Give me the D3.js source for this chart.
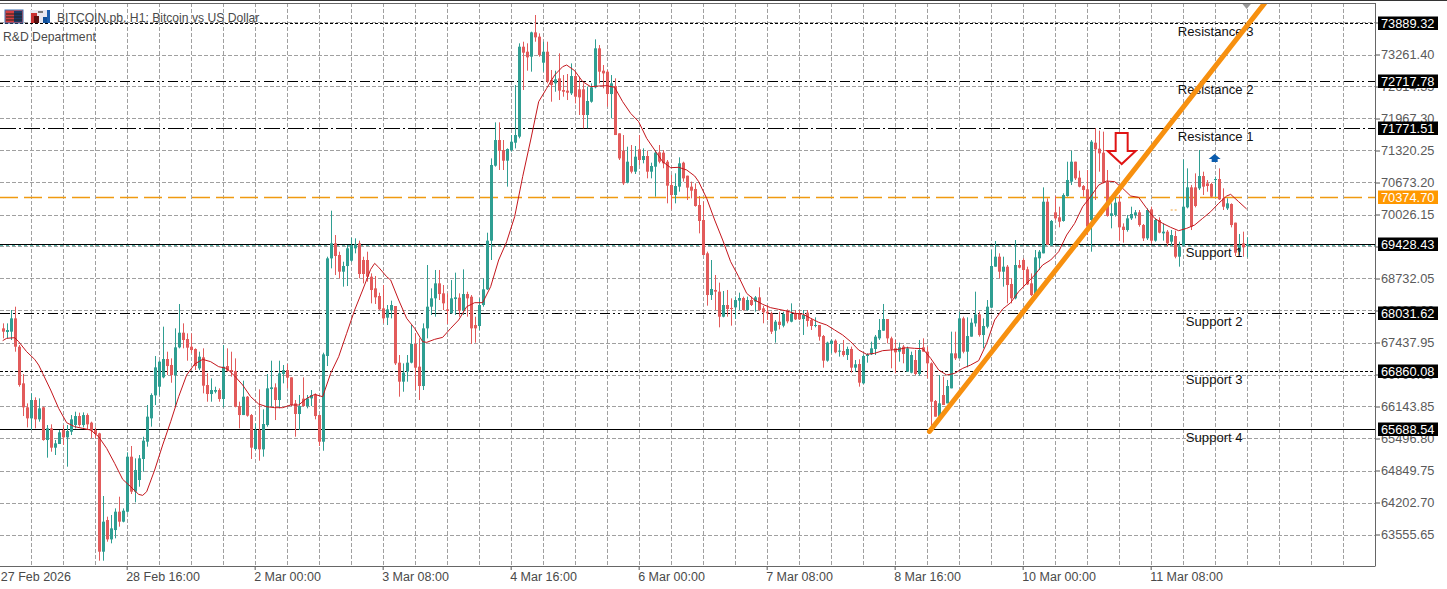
<!DOCTYPE html>
<html>
<head>
<meta charset="utf-8">
<script src="https://cdn.jsdelivr.net/npm/d3@7"></script>
<style>
html,body{margin:0;padding:0;background:#fff;overflow:hidden}
svg{display:block}
text{font-family:"Liberation Sans",Arial,sans-serif;font-size:12.5px}
</style>
</head>
<body>
<svg id="chart" width="1447" height="589"></svg>
<script>
const opens = [
67724,67650,67657,67926,67353,66612,66127,65904,66275,65884,
66127,65466,65702,65311,65385,65668,65520,65634,65769,65951,
65769,65971,65817,65668,65601,63208,63848,63457,63646,64017,
63815,64017,65129,64421,64657,65082,65432,65904,66369,66544,
66733,67104,66983,66780,67340,67636,67508,67353,67306,66915,
67138,66578,66396,66443,66477,66295,66962,66881,66861,66153,
65971,66342,65971,65284,65668,65277,65769,66497,66531,66275,
66800,66881,66733,66207,65992,66302,66153,66308,66389,65971,
65432,67165,69139,69443,69207,68870,68984,69092,69342,69443,
69106,69106,68769,68533,68378,68128,67940,68095,68176,67030,
66646,66848,67030,67407,66949,66558,67724,68162,68331,68634,
68432,68108,68027,68317,68344,68081,68418,68364,67791,67771,
68196,68513,69497,71013,71532,71330,71114,71330,71478,71600,
73419,73318,73217,73709,73622,73096,73318,72745,72678,72779,
72543,72530,72476,72826,72557,72557,72038,72307,72597,73386,
72934,72914,72462,72624,71667,71317,70669,71006,70892,71343,
71128,71209,70892,70993,71283,71276,71094,70623,70420,70589,
71074,70811,70589,70542,70218,69915,69241,68398,68500,68466,
67960,68196,68136,68149,68284,68338,68095,68297,68264,68351,
68129,68061,68028,67677,67859,67778,68082,67859,68028,68014,
67913,68041,67893,67772,67792,67569,67071,67408,67475,67253,
67266,67185,67307,66929,67003,66612,67165,67199,67307,67522,
67677,67913,67522,67320,67253,67354,66848,66828,67084,66801,
67340,67253,67017,66255,65938,66376,66208,66511,67219,67118,
67926,67252,67556,67825,68007,67589,67758,68142,68971,69173,
68870,68971,68621,68331,69005,69106,68917,68634,68412,69140,
69241,70285,69409,70070,69969,69895,70400,70690,71094,70771,
70602,70535,69915,71478,71357,71276,70690,69996,70016,70285,
69780,69713,69948,70016,70070,69814,69544,70130,69497,69915,
69645,69679,69477,69591,69173,69409,70171,70575,70575,70555,
70804,70656,70643,70723,70744,70353,70150,70238,69861,69274,69443,69389];
const highs = [
67825,67825,68095,68162,67387,66800,66207,66410,66329,66308,
66140,65769,65783,65466,65668,65769,65769,65971,66039,66019,
66025,66005,65837,65722,65614,64334,63916,63950,64084,64320,
64084,65217,65345,65095,65163,65533,66174,66410,67164,67070,
67758,67252,67117,67724,68216,67825,67623,67623,67320,67252,
67320,66814,66713,66544,66511,67387,67320,67252,67117,66241,
66666,66356,65992,65803,66490,66086,66800,67070,66612,67070,
66983,67003,66733,66275,66376,66733,66376,66477,66410,65971,
67232,69173,70103,69611,69274,69072,69409,69557,69544,69497,
69173,69274,68836,68782,68445,68600,68196,68284,68176,67185,
67016,67185,67791,67623,67522,67825,69005,68533,68904,68904,
68600,68432,68701,68850,68432,68917,68465,68398,67960,68331,
68735,69658,71161,71889,71889,71532,71363,71633,72644,73487,
73520,73487,73723,74060,73689,73520,73520,72948,72934,73285,
72846,72867,73082,72914,72813,72678,72611,72678,73568,73453,
73049,72948,72846,72779,71667,71633,71397,71431,71411,71633,
71364,71317,71074,71330,71431,71330,71128,70825,70859,71182,
71094,70811,70690,70656,70400,70286,69275,69106,68803,68648,
68479,68500,68331,68365,68446,68365,68365,68365,68378,68554,
68176,68196,68061,67893,68061,68061,68109,68230,68095,68095,
68095,68095,67927,67947,67792,67590,67455,67502,67502,67408,
67489,67354,67354,67084,67098,67185,67219,67455,67590,67913,
68217,67913,67556,67489,67435,67387,67354,67253,67286,67489,
67522,67354,67037,66275,66781,66747,66680,67657,67657,68061,
67960,67947,67926,68466,68061,67926,68297,69308,69490,69241,
69173,69005,68735,69510,69106,69140,68971,68836,69308,69308,
70575,70353,69915,70400,70184,70454,71094,71317,71094,70912,
70622,70926,71532,71768,71721,71701,70926,70252,70454,70420,
69847,70016,70184,70117,70117,69834,70151,70184,69948,69969,
69847,69713,69713,69699,69477,71141,70959,70622,70858,71330,
70892,70723,70669,70791,70959,70555,70353,70252,69861,69632,69679,69564];
const lows = [
67522,67522,67488,67252,66544,65951,65722,65668,65702,65837,
65453,65109,65230,65163,65385,65365,64927,65567,65702,65736,
65722,65682,65500,65500,63026,63026,63410,63377,63478,63714,
63801,63997,64374,64206,64522,64826,65331,65736,66174,66369,
66713,66780,66625,66140,67320,67320,67070,67218,66881,66881,
66410,66241,66241,66410,66241,66127,66848,66747,66127,65702,
65971,65938,65082,65264,65048,65129,65736,66140,65870,66106,
66612,66511,66153,65533,65668,66140,66106,66153,65884,65345,
65250,66962,68937,68802,68735,68567,68580,69072,69241,68735,
68634,68668,68230,68216,68095,67825,67791,67926,66983,66342,
66443,66646,67016,66477,66275,66477,67522,67994,67960,68297,
68095,67812,68027,67994,67960,67994,67960,67407,67434,67690,
68162,68499,69106,70993,70926,70926,70589,71296,71363,71566,
72543,72934,72914,73520,73217,72914,72678,72307,72509,72341,
72408,72341,72442,72274,72038,71768,71768,72287,72577,72678,
72577,72206,71970,71633,71128,70622,70656,70858,70845,71027,
71061,70757,70757,70387,71061,70960,70252,70131,70252,70488,
70690,70319,70353,70185,69645,69207,68183,68297,68095,67745,
67947,67960,67778,67913,68095,68082,68082,68176,68061,68082,
67826,67893,67610,67435,67704,67745,67826,67846,67893,67893,
67590,67758,67691,67745,67475,66929,67050,67219,67219,67152,
67152,67084,66828,66848,66545,66599,67030,67185,67185,67489,
67677,67421,66916,66815,67050,67017,66848,66815,66781,66767,
67253,66713,65669,65938,65904,66174,66208,66511,67084,67118,
67219,66936,67556,67758,67556,67320,67724,68129,68971,68735,
68567,68230,68230,68311,68937,68567,68600,68378,68398,68904,
69241,69409,69389,69915,69767,69881,70387,70622,70724,70575,
70387,69611,69274,70319,70892,70656,69982,69746,69982,69497,
69456,69679,69915,69948,69780,69490,69510,69443,69477,69645,
69497,69389,69409,69140,68971,69375,70150,69712,70171,70521,
70420,70487,70373,70386,70319,70117,70117,69766,69187,69207,69173,69160];
const closes = [
67657,67690,67926,67353,66578,66127,65904,66275,65884,66106,
65466,65702,65311,65399,65621,65520,65648,65884,65951,65769,
65971,65783,65655,65587,63208,63815,63457,63680,64017,63815,
64037,65129,64421,64859,65095,65453,65938,66376,66935,67050,
67104,66962,66780,67340,67636,67488,67333,67286,66962,67151,
66565,66396,66477,66477,66295,66949,66868,66848,66140,65971,
66342,65958,65311,65668,65277,65790,66511,66531,66275,66814,
66881,66726,66174,65992,66153,66153,66308,66376,65951,65432,
67198,69139,69443,69187,68870,68984,69342,69409,69423,68823,
68823,68769,68499,68351,68108,67926,68108,68196,67016,66646,
66828,67030,67407,66929,66558,67724,68162,68331,68634,68418,
68230,68075,68331,68351,68081,68418,68331,67724,67724,68196,
68513,69497,71027,71532,71317,71114,71350,71498,71633,73419,
73298,73204,73709,73608,73251,73318,72712,72644,72759,72530,
72509,72489,72826,72408,72395,72038,72321,72597,73386,72914,
72880,72462,72678,71633,71161,70656,71094,70892,71195,71128,
71209,70892,71007,71276,71094,71061,70609,70420,70602,71061,
70757,70569,70508,70198,69895,69207,68398,68520,68466,67960,
68196,68115,68115,68297,68338,68095,68297,68196,68351,68095,
68048,68028,67657,67859,67792,68014,67866,68014,67906,67906,
67994,67873,67772,67792,67556,67071,67435,67475,67239,67273,
67185,67307,66929,66997,66626,67165,67199,67320,67556,67691,
67913,67522,67300,67239,67340,67206,67320,67185,66801,67286,
67253,67017,66241,65938,66208,66174,66558,67219,67118,67926,
67252,67569,67839,68007,67589,67771,68162,68985,69173,68870,
68971,68600,68331,69005,68951,68904,68614,68398,69160,69274,
70285,69409,69895,69948,69881,70420,70724,71094,70757,70589,
70521,69780,71499,71344,71263,70670,69996,70050,70265,69767,
69713,69948,70036,70070,69814,69544,70117,69497,69915,69659,
69679,69443,69611,69173,69376,70184,70575,69780,70198,70804,
70589,70602,70386,70744,70332,70184,70252,69813,69254,69409,69362,69428];

const maBars = [0,1,3,4,6,8,9,10,12,14,16,18,20,22,24,26,28,30,32,34,35,36,38,40,42,44,46,48,50,52,54,56,58,60,62,64,66,68,70,72,74,76,78,80,
82,84,86,88,90,92,93,94,96,97,99,101,103,105,106,108,110,112,114,116,118,120,122,124,126,128,130,132,134,136,138,140,141,143,145,147,149,151,153,155,157,159,161,163,
165,167,169,171,173,174,176,178,180,182,184,186,188,190,192,194,196,198,200,202,204,206,208,210,212,214,216,218,220,222,224,226,228,230,232,
234,236,238,240,242,244,246,248,250,252,254,256,258,260,262,264,266,268,270,272,274,276,278,280,282,284,286,288,290,292,294,296,298,300,302,304,306,307,309,311];
const maValues = [67475,67522,67535,67454,67252,67097,66982,66814,66477,66106,65816,65736,65702,65668,65533,65297,64994,64671,64522,64367,64347,64421,64859,65365,65837,66342,66780,67003,67097,67050,66949,66915,66760,66578,66342,66194,66140,66120,66120,66174,66174,66308,66389,66342,
66814,67151,67623,68095,68499,68917,69038,68958,68769,68701,68297,67926,67724,67454,67441,67502,67542,67724,67893,68162,68243,68243,68567,69106,69476,69982,70791,71532,72307,72577,72846,73015,73049,72934,72712,72611,72624,72631,72597,72307,72071,71903,71566,71330,
71094,70973,70980,70926,70805,70690,70353,69915,69511,69072,68769,68432,68297,68210,68142,68109,68075,68028,68014,67927,67846,67792,67691,67590,67455,67286,67199,67219,67273,67286,67300,67334,67320,67313,67118,
66882,66781,66814,66915,66983,67071,67421,67893,68115,68243,68466,68634,68803,69005,69106,69274,69611,69847,70184,70387,70622,70703,70690,70555,70400,70373,70151,69948,69847,69767,69699,69746,69814,69948,70083,70252,70400,70434,70285,70137];

const priceTicks = [73908.45,73261.40,72614.35,71967.30,71320.25,70673.20,70026.15,69379.10,68732.05,68085.00,67437.95,66790.90,66143.85,65496.80,64849.75,64202.70,63555.65];
const timeTickBars = [-1,31,63,95,127,159,191,223,255,287];
const timeTickLabels = ["27 Feb 2026","28 Feb 16:00","2 Mar 00:00","3 Mar 08:00","4 Mar 16:00","6 Mar 00:00","7 Mar 08:00","8 Mar 16:00","10 Mar 00:00","11 Mar 08:00"];
const gridBars = [7,15,23,31,39,47,55,63,71,79,87,95,103,111,119,127,135,143,151,159,167,175,183,191,199,207,215,223,231,239,247,255,263,271,279,287,295,303,311,319,327,335];

const levelNames = ["Resistance 3","Resistance 2","Resistance 1","Support 1","Support 2","Support 3","Support 4"];
const levelPrices = [73889.32,72717.78,71771.51,69428.43,68031.62,66860.08,65688.54];
const levelDashes = ["3,2","10,3,2,3,2,4","16,3,2,3","none","10,3,2,3,2,4","3,2","none"];
const levelTextBars = [293.8,293.8,293.8,295.8,295.8,295.8,295.8];
const currentPrice = 70374.70;
const bidPrice = 69410;
const trendBars = [231.7,315.5];
const trendPrices = [65640,74300];
const sellArrow = {bar:280, price:71047};
const buyArrow = {bar:303, price:71249};
const title = "BITCOIN.pb, H1:  Bitcoin vs US Dollar";
const subtitle = "R&D Department";

const UP="#2f9e92", DOWN="#e25b5b";
const LEFT=0, RIGHT=1375, TOP=3, BOTTOM=566;

const x = d3.scaleLinear().domain([0,311]).range([2.67,1246.67]);
const y = d3.scaleLinear().domain([63555.65,73261.40]).range([534.5,54.5]);

const svg = d3.select("#chart");
svg.append("defs").append("clipPath").attr("id","plot")
  .append("rect").attr("x",LEFT).attr("y",TOP).attr("width",RIGHT-LEFT).attr("height",BOTTOM-TOP);

const plot = svg.append("g").attr("clip-path","url(#plot)");

// grid
const grid = plot.append("g").attr("stroke","#a0a0a0").attr("stroke-width",1).attr("stroke-dasharray","4,2");
grid.selectAll("line.h").data(priceTicks).join("line").attr("class","h")
  .attr("x1",LEFT).attr("x2",RIGHT)
  .attr("y1",d=>Math.round(y(d))+0.5).attr("y2",d=>Math.round(y(d))+0.5);
grid.selectAll("line.v").data(gridBars).join("line").attr("class","v")
  .attr("x1",d=>Math.round(x(d))+0.5).attr("x2",d=>Math.round(x(d))+0.5)
  .attr("y1",TOP).attr("y2",BOTTOM);

// level lines
plot.selectAll("line.level").data(levelPrices).join("line").attr("class","level")
  .attr("x1",LEFT).attr("x2",RIGHT)
  .attr("y1",d=>Math.round(y(d))+0.5).attr("y2",d=>Math.round(y(d))+0.5)
  .attr("stroke","#000").attr("stroke-width",1.1)
  .attr("stroke-dasharray",(d,i)=>levelDashes[i]);
plot.append("line").attr("x1",LEFT).attr("x2",RIGHT)
  .attr("y1",Math.round(y(bidPrice))+0.5).attr("y2",Math.round(y(bidPrice))+0.5)
  .attr("stroke","#55b5aa").attr("stroke-width",1).attr("stroke-dasharray","3,3");
plot.append("line").attr("x1",LEFT).attr("x2",RIGHT)
  .attr("y1",Math.round(y(currentPrice))+0.5).attr("y2",Math.round(y(currentPrice))+0.5)
  .attr("stroke","#f09a10").attr("stroke-width",1.6).attr("stroke-dasharray","18,6");
plot.append("line").attr("x1",x(292)).attr("x2",x(294))
  .attr("y1",y(70117)).attr("y2",y(70117))
  .attr("stroke","#f0a030").attr("stroke-width",1).attr("stroke-dasharray","2,2");

// candles
const candles = d3.range(closes.length);
plot.append("g").selectAll("line").data(candles).join("line")
  .attr("x1",i=>Math.round(x(i))+0.5).attr("x2",i=>Math.round(x(i))+0.5)
  .attr("y1",i=>y(highs[i])).attr("y2",i=>y(lows[i]))
  .attr("stroke",i=>closes[i]>=opens[i]?UP:DOWN).attr("stroke-width",1);
plot.append("g").selectAll("rect").data(candles).join("rect")
  .attr("x",i=>Math.round(x(i))+0.5-1.5).attr("width",3)
  .attr("y",i=>y(Math.max(opens[i],closes[i])))
  .attr("height",i=>Math.max(1,Math.abs(y(opens[i])-y(closes[i]))))
  .attr("fill",i=>closes[i]>=opens[i]?UP:DOWN);

// moving average
plot.append("path")
  .attr("d",d3.line().x((d,i)=>x(maBars[i])).y(d=>y(d))(maValues))
  .attr("fill","none").attr("stroke","#c4161c").attr("stroke-width",1);

// text labels of the levels
plot.selectAll("text.lv").data(levelNames).join("text").attr("class","lv")
  .attr("x",(d,i)=>x(levelTextBars[i])).attr("y",(d,i)=>y(levelPrices[i])+12.5)
  .attr("fill","#111").style("font-size","13.1px").text(d=>d);

// trend line
plot.append("line")
  .attr("x1",x(trendBars[0])).attr("y1",y(trendPrices[0]))
  .attr("x2",x(trendBars[1])).attr("y2",y(trendPrices[1]))
  .attr("stroke","#f7900f").attr("stroke-width",5).attr("stroke-linecap","round");

// arrows
const ax = x(sellArrow.bar), ay = y(sellArrow.price);
plot.append("path").attr("transform",`translate(${ax-1},${ay})`)
  .attr("d","M0,0L-14,-13L-6,-13L-6,-31L6,-31L6,-13L14,-13Z")
  .attr("fill","#fff").attr("stroke","#e01414").attr("stroke-width",2);
const bx = x(buyArrow.bar), by = y(buyArrow.price);
plot.append("path").attr("transform",`translate(${bx},${by})`)
  .attr("d","M0,0L-6,5L-3,5L-3,8L3,8L3,5L6,5Z").attr("fill","#0b5cad");
plot.append("path").attr("transform",`translate(${x(311)},3)`)
  .attr("d","M-5,0L5,0L0,6Z").attr("fill","#999");

// axes
const yAxis = d3.axisRight(y).tickValues(priceTicks).tickFormat(d3.format(".2f")).tickSize(5).tickPadding(1);
const yg = svg.append("g").attr("transform",`translate(${RIGHT},0)`).call(yAxis);
yg.select(".domain").remove();
yg.selectAll(".tick line").attr("stroke","#555");
yg.selectAll(".tick text").attr("fill","#5a5a5a").style("font-size","12.8px").style("font-family",'"Liberation Sans",Arial,sans-serif');

const xAxis = d3.axisBottom(x).tickValues(timeTickBars).tickFormat((d,i)=>timeTickLabels[i]).tickSize(4).tickPadding(2);
const xg = svg.append("g").attr("transform",`translate(0,${BOTTOM})`).call(xAxis);
xg.select(".domain").remove();
xg.selectAll(".tick line").attr("stroke","#555");
xg.selectAll(".tick text").attr("fill","#4a4a4a").attr("text-anchor","start").attr("dx",(d,i)=>i===0?1.6:-1)
  .style("font-size","12.5px").style("font-family",'"Liberation Sans",Arial,sans-serif');

// frame
svg.append("line").attr("x1",0).attr("x2",1447).attr("y1",0.5).attr("y2",0.5).attr("stroke","#333");
svg.append("line").attr("x1",0).attr("x2",RIGHT).attr("y1",3.5).attr("y2",3.5).attr("stroke","#666");
svg.append("line").attr("x1",RIGHT+0.5).attr("x2",RIGHT+0.5).attr("y1",3).attr("y2",BOTTOM+0.5).attr("stroke","#666");
svg.append("line").attr("x1",0).attr("x2",RIGHT).attr("y1",BOTTOM+0.5).attr("y2",BOTTOM+0.5).attr("stroke","#666");

// price tags
function tag(price,bg){
  const yy=Math.round(y(price));
  svg.append("rect").attr("x",1378).attr("y",yy-6.5).attr("width",60).attr("height",13.5).attr("fill",bg);
  svg.append("text").attr("x",1381).attr("y",yy+5).attr("fill","#fff").style("font-size","12.8px").text(d3.format(".2f")(price));
}
levelPrices.forEach(p=>tag(p,"#000"));
tag(currentPrice,"#ff9800");

// title and icons
svg.append("text").attr("x",57).attr("y",22).attr("fill","#4a4a4a").style("font-size","12.15px").text(title);
svg.append("text").attr("x",3).attr("y",41).attr("fill","#4a4a4a").style("font-size","12.2px").text(subtitle);
const ic = svg.append("g");
ic.append("rect").attr("x",5).attr("y",10).attr("width",18).attr("height",13).attr("fill","#d43f3f").attr("stroke","#3a6fb0");
ic.append("rect").attr("x",14).attr("y",11).attr("width",8).attr("height",11).attr("fill","#1d3a66");
[14,17,20].forEach(v=>ic.append("line").attr("x1",6).attr("x2",22).attr("y1",v).attr("y2",v).attr("stroke","#222"));
ic.append("rect").attr("x",30).attr("y",10).attr("width",20).attr("height",13).attr("fill","#e8e8f0");
ic.append("rect").attr("x",31).attr("y",13).attr("width",6).attr("height",10).attr("fill","#c93030");
ic.append("rect").attr("x",34).attr("y",16).attr("width",5).attr("height",7).attr("fill","#5a1010");
ic.append("rect").attr("x",43).attr("y",17).attr("width",6).attr("height",6).attr("fill","#0f4f9a");
ic.append("rect").attr("x",47).attr("y",10).attr("width",3).attr("height",13).attr("fill","#1d5fae");
ic.append("rect").attr("x",38).attr("y",11).attr("width",5).attr("height",2).attr("fill","#777");
</script>
</body>
</html>
